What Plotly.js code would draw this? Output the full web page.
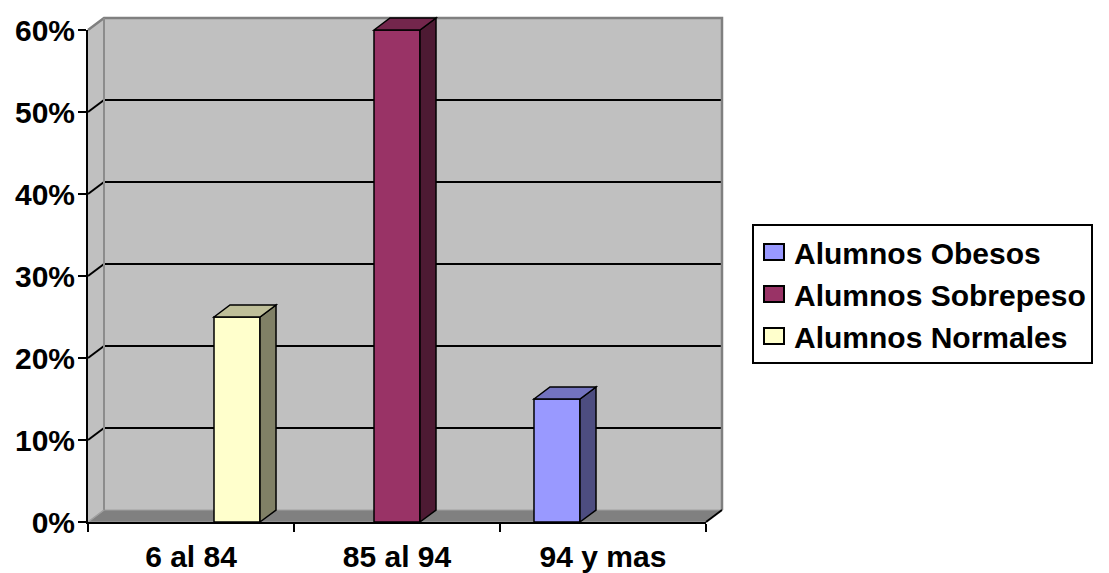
<!DOCTYPE html>
<html><head><meta charset="utf-8">
<script src="https://cdn.plot.ly/plotly-3.0.1.min.js"></script>
<style>html,body{margin:0;padding:0;background:#fff}#chart{width:1109px;height:573px}</style>
</head><body><div id="chart"></div>
<script>
// ---- data ----
const categories = ['6 al 84', '85 al 94', '94 y mas'];
const seriesNames = ['Alumnos Obesos', 'Alumnos Sobrepeso', 'Alumnos Normales'];
const obesos = [0, 0, 0.15];
const sobrepeso = [0, 0.60, 0];
const normales = [0.25, 0, 0];
const yTickVals = [0, 0.1, 0.2, 0.3, 0.4, 0.5, 0.6];
const yTickText = ['0%', '10%', '20%', '30%', '40%', '50%', '60%'];

// ---- styles ----
const frontColors = ['#9999FF', '#993366', '#FFFFCC'];
const topColors = ['#7373BF', '#73264C', '#BFBF99'];
const sideColors = ['#4D4D80', '#4D1A33', '#808066'];
const FONT = 'Liberation Sans, Arial, Helvetica, sans-serif';
const DX = 16, DY = 12; // 3D depth in pixels
const BARGAP = 0.33;
const M = {l: 88, r: 403, t: 30, b: 51};

const seriesValues = [obesos, sobrepeso, normales];
const traces = seriesValues.map((vals, k) => ({
  type: 'bar', name: seriesNames[k], x: categories, y: vals,
  marker: {color: frontColors[k], line: {color: '#000', width: vals.map(v => v > 0 ? 1.5 : 0)}},
  hoverinfo: 'skip'
}));

const layout = {
  width: 1109, height: 573, margin: M,
  paper_bgcolor: '#fff', plot_bgcolor: 'rgba(0,0,0,0)',
  barmode: 'group', bargap: BARGAP, bargroupgap: 0,
  font: {family: FONT, size: 30, color: '#000', weight: 'bold'},
  xaxis: {type: 'category', range: [-0.5, 2.5], showgrid: false, zeroline: false,
    showline: true, linecolor: '#000', linewidth: 2, ticks: 'outside', ticklen: 8,
    tickwidth: 2, tickcolor: '#000', tickson: 'boundaries', ticklabelstandoff: 7,
    tickfont: {family: FONT, size: 30, color: '#000', weight: 'bold'}, fixedrange: true},
  yaxis: {range: [0, 0.6], tickvals: yTickVals, ticktext: yTickText, showgrid: false,
    zeroline: false, showline: true, linecolor: '#000', linewidth: 2, ticks: 'outside',
    ticklen: 8, tickwidth: 2, tickcolor: '#000', ticklabelstandoff: -3,
    tickfont: {family: FONT, size: 30, color: '#000', weight: 'bold'}, fixedrange: true},
  showlegend: true,
  legend: {x: (752 - M.l) / (1109 - M.l - M.r), xanchor: 'left', y: (522 - 224) / (573 - M.t - M.b), yanchor: 'top',
    bgcolor: '#fff', bordercolor: '#000', borderwidth: 2, traceorder: 'normal',
    font: {family: FONT, size: 30, color: '#000', weight: 'bold'}},
  shapes: []
};

const gd = document.getElementById('chart');

function enlargeLegendKeys() {
  gd.querySelectorAll('g.legendpoints path').forEach(p => {
    p.setAttribute('d', 'M10,8H-10V-8H10Z');
    p.style.strokeWidth = '2px';
    p.style.stroke = 'rgb(0,0,0)';
  });
}

Plotly.newPlot(gd, traces, layout, {displayModeBar: false, staticPlot: true}).then(() => {
  const xa = gd._fullLayout.xaxis, ya = gd._fullLayout.yaxis;
  const W = xa._length, H = ya._length;
  const P = (px, py) => (px / W).toFixed(5) + ',' + (1 - py / H).toFixed(5);
  const poly = pts => 'M' + pts.map(p => P(p[0], p[1])).join(' L') + ' Z';
  const line = pts => 'M' + pts.map(p => P(p[0], p[1])).join(' L');
  const shapes = [];
  const add = (path, fill, lc, lw, layer) => shapes.push({type: 'path', xref: 'paper', yref: 'paper',
    path, fillcolor: fill || 'rgba(0,0,0,0)', line: {color: lc, width: lw}, layer: layer || 'below'});

  const x0 = xa.l2p(-0.5), x1 = xa.l2p(2.5);
  const y0 = ya.l2p(0), y1 = ya.l2p(0.6);
  // walls
  add(poly([[x0 + DX, y1 - DY], [x1 + DX, y1 - DY], [x1 + DX, y0 - DY], [x0 + DX, y0 - DY]]), '#C0C0C0', '#808080', 0);
  add(poly([[x0, y1], [x0 + DX, y1 - DY], [x0 + DX, y0 - DY], [x0, y0]]), '#C0C0C0', '#808080', 0);
  add(poly([[x0, y0], [x0 + DX, y0 - DY], [x1 + DX, y0 - DY], [x1, y0]]), '#808080', '#A0A0A0', 1);
  // gridlines on back and side walls
  yTickVals.forEach(v => {
    const py = ya.l2p(v);
    if (v > 0 && v < 0.6) {
      add(line([[x0 + DX, py - DY], [x1 + DX, py - DY]]), null, '#000', 2);
      add(line([[x0, py], [x0 + DX, py - DY]]), null, '#000', 2);
    }
  });
  // wall edges
  add(line([[x0, y1], [x0 + DX, y1 - DY], [x1 + DX, y1 - DY], [x1 + DX, y0 - DY]]), null, '#808080', 2.5);
  add(line([[x0 + DX, y1 - DY], [x0 + DX, y0 - DY]]), null, '#8C8C8C', 2);
  add(line([[x0, y0], [x0 + DX, y0 - DY]]), null, '#A0A0A0', 1.5);
  add(line([[x1, y0], [x1 + DX, y0 - DY]]), null, '#000', 2);

  // 3D bar faces
  const n = seriesValues.length, w = (1 - BARGAP) / n;
  seriesValues.forEach((vals, k) => {
    vals.forEach((v, i) => {
      if (!(v > 0)) return;
      const c = i + (k - (n - 1) / 2) * w;
      const bl = xa.l2p(c - w / 2), br = xa.l2p(c + w / 2);
      const bt = ya.l2p(v), bb = ya.l2p(0);
      add(poly([[br, bb], [br + DX, bb - DY], [br + DX, bt - DY], [br, bt]]), sideColors[k], '#000', 1.5, 'above');
      add(poly([[bl, bt], [bl + DX, bt - DY], [br + DX, bt - DY], [br, bt]]), topColors[k], '#000', 1.5, 'above');
    });
  });
  gd.on('plotly_afterplot', enlargeLegendKeys);
  return Plotly.relayout(gd, {shapes});
}).then(() => {
  enlargeLegendKeys();
  setTimeout(enlargeLegendKeys, 50);
});
</script></body></html>
